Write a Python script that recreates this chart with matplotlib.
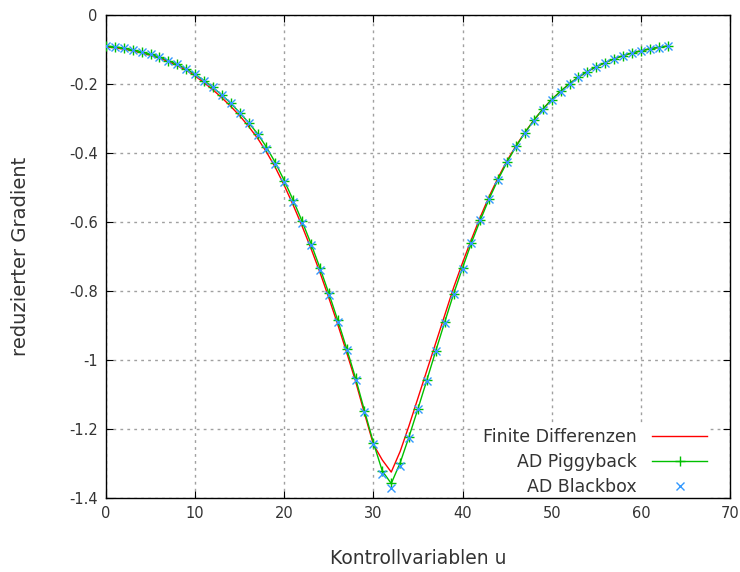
#!/usr/bin/env python3
"""Reduced gradient: finite differences vs. AD piggyback vs. AD blackbox."""

import matplotlib

matplotlib.use("Agg")
import matplotlib.pyplot as plt

# control variable index u = 0..63
CONTROLS = list(range(64))

FINITE_DIFF = [
    -0.093, -0.095, -0.099, -0.104, -0.110, -0.117, -0.125, -0.135,
    -0.147, -0.160, -0.177, -0.196, -0.217, -0.240, -0.265, -0.292,
    -0.323, -0.357, -0.397, -0.442, -0.494, -0.551, -0.612, -0.677,
    -0.746, -0.820, -0.897, -0.978, -1.062, -1.155, -1.245, -1.290,
    -1.325, -1.265, -1.190, -1.110, -1.030, -0.950, -0.870, -0.790,
    -0.718, -0.650, -0.585, -0.525, -0.471, -0.422, -0.379, -0.340,
    -0.305, -0.273, -0.245, -0.221, -0.199, -0.180, -0.164, -0.150,
    -0.138, -0.127, -0.118, -0.110, -0.104, -0.098, -0.094, -0.090,
]

PIGGYBACK = [
    -0.090, -0.092, -0.096, -0.101, -0.107, -0.114, -0.122, -0.132,
    -0.143, -0.156, -0.172, -0.190, -0.210, -0.232, -0.256, -0.283,
    -0.312, -0.344, -0.383, -0.428, -0.480, -0.537, -0.598, -0.663,
    -0.733, -0.807, -0.885, -0.967, -1.053, -1.147, -1.240, -1.322,
    -1.358, -1.298, -1.222, -1.141, -1.058, -0.973, -0.890, -0.808,
    -0.733, -0.660, -0.594, -0.532, -0.476, -0.426, -0.381, -0.341,
    -0.305, -0.273, -0.245, -0.221, -0.199, -0.180, -0.164, -0.150,
    -0.138, -0.127, -0.118, -0.110, -0.104, -0.098, -0.094, -0.090,
]

BLACKBOX = [
    -0.090, -0.092, -0.096, -0.101, -0.107, -0.114, -0.122, -0.132,
    -0.143, -0.156, -0.172, -0.190, -0.210, -0.232, -0.256, -0.283,
    -0.314, -0.348, -0.388, -0.433, -0.485, -0.542, -0.603, -0.668,
    -0.738, -0.812, -0.890, -0.972, -1.058, -1.150, -1.243, -1.330,
    -1.372, -1.308, -1.225, -1.143, -1.060, -0.975, -0.892, -0.810,
    -0.735, -0.662, -0.595, -0.533, -0.477, -0.427, -0.382, -0.342,
    -0.306, -0.274, -0.246, -0.222, -0.200, -0.181, -0.165, -0.151,
    -0.139, -0.128, -0.119, -0.111, -0.105, -0.099, -0.095, -0.091,
]

X_TICKS = [0, 10, 20, 30, 40, 50, 60, 70]
Y_TICKS = [0, -0.2, -0.4, -0.6, -0.8, -1.0, -1.2, -1.4]
Y_TICK_LABELS = ["0", "-0.2", "-0.4", "-0.6", "-0.8", "-1", "-1.2", "-1.4"]


def main() -> None:
    plt.rcParams["font.family"] = ["DejaVu Sans"]
    plt.rcParams["font.size"] = 10.5

    fig = plt.figure(figsize=(7.4, 5.72), dpi=100)
    ax = fig.add_axes([0.1432, 0.1294, 0.8433, 0.8444])

    ax.plot(CONTROLS, FINITE_DIFF, color="#ff0000", lw=1.0,
            label="Finite Differenzen", zorder=3)
    ax.plot(CONTROLS, PIGGYBACK, color="#00c000", lw=1.0, marker="+",
            markersize=7, markeredgewidth=1.0, label="AD Piggyback", zorder=4)
    ax.plot(CONTROLS, BLACKBOX, color="#3399ff", lw=0, marker="x",
            markersize=6, markeredgewidth=1.0, label="AD Blackbox", zorder=5)

    ax.set_xlim(0, 70)
    ax.set_ylim(-1.4, 0)
    ax.set_xticks(X_TICKS)
    ax.set_yticks(Y_TICKS)
    ax.set_yticklabels(Y_TICK_LABELS)
    ax.tick_params(direction="in", length=5, top=True, right=True,
                   colors="#000000", labelcolor="#333333", pad=6)
    ax.grid(True, color="#a0a0a0", linestyle=(0, (2, 3)), lw=1.0)
    for spine in ax.spines.values():
        spine.set_linewidth(1.0)

    ax.set_xlabel("Kontrollvariablen u", color="#333333", fontsize=13.5,
                  labelpad=20)
    ax.set_ylabel("reduzierter Gradient", color="#333333", fontsize=14,
                  labelpad=28)

    legend = ax.legend(loc="lower right", bbox_to_anchor=(0.968, -0.002),
                       markerfirst=False, frameon=True, handlelength=3.2,
                       handletextpad=0.9, borderpad=0.15, borderaxespad=0.0,
                       labelspacing=0.4, fontsize=12.5)
    legend.get_frame().set_facecolor("white")
    legend.get_frame().set_edgecolor("none")
    legend.get_frame().set_alpha(1.0)
    legend.set_zorder(2)
    for text in legend.get_texts():
        text.set_color("#333333")

    fig.savefig("out.png", dpi=100)


if __name__ == "__main__":
    main()
